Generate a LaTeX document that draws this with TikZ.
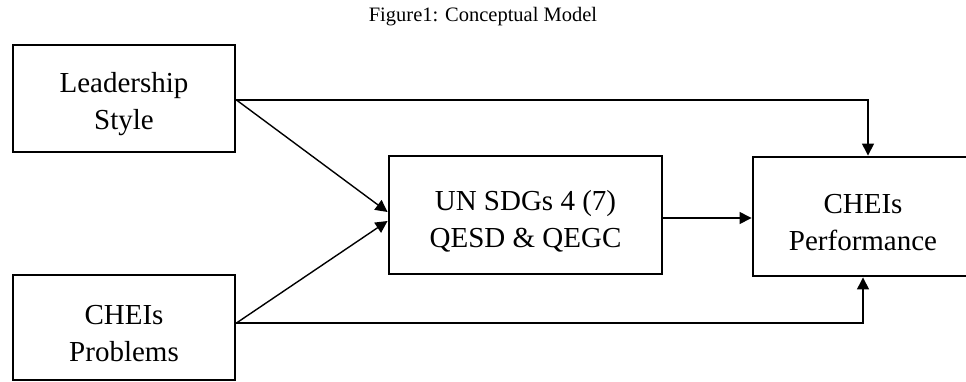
\documentclass[tikz,border=0pt]{standalone}
\usepackage{fontspec}
\setmainfont{Liberation Serif}
\usetikzlibrary{arrows.meta}
% extra room above the first line, so two-line labels sit a little low
\newcommand\topgap{\rule{0pt}{32pt}}
\begin{document}
\begin{tikzpicture}[x=1pt,y=-1pt,
  box/.style={draw, line width=2.9pt, inner sep=0pt, align=center,
    font=\fontsize{29}{37}\selectfont},
  link/.style={line width=1.4pt, -{Triangle[length=12pt,width=12pt]}}]
\useasboundingbox (0,0) rectangle (966,381);
\node[font=\fontsize{20.5}{24}\selectfont] (title) at (483,17) {Figure1: Conceptual Model};
\node[box, minimum width=222pt, minimum height=107pt] (lead) at (124,98.5) {\topgap Leadership\\Style};
\node[box, minimum width=222pt, minimum height=105pt] (prob) at (124,327.5) {\topgap CHEIs\\Problems};
\node[box, minimum width=273pt, minimum height=118pt] (sdg) at (525.5,215) {\topgap UN SDGs 4 (7)\\QESD \& QEGC};
\node[box, minimum width=220pt, minimum height=119pt] (perf) at (863,216.5) {\topgap CHEIs\\Performance};
% direct paths into performance
\draw[link] ([yshift=-1.5pt]lead.east) -| ([xshift=5pt]perf.north);
\draw[link] ([yshift=4.5pt]prob.east) -| (perf.south);
% paths through the SDG box
\draw[link] ([yshift=-1.5pt]lead.east) -- ([yshift=3pt]sdg.west);
\draw[link] ([yshift=4.5pt]prob.east) -- ([yshift=-6pt]sdg.west);
\draw[link] ([yshift=-3pt]sdg.east) -- ([yshift=-1.5pt]perf.west);
\end{tikzpicture}
\end{document}
